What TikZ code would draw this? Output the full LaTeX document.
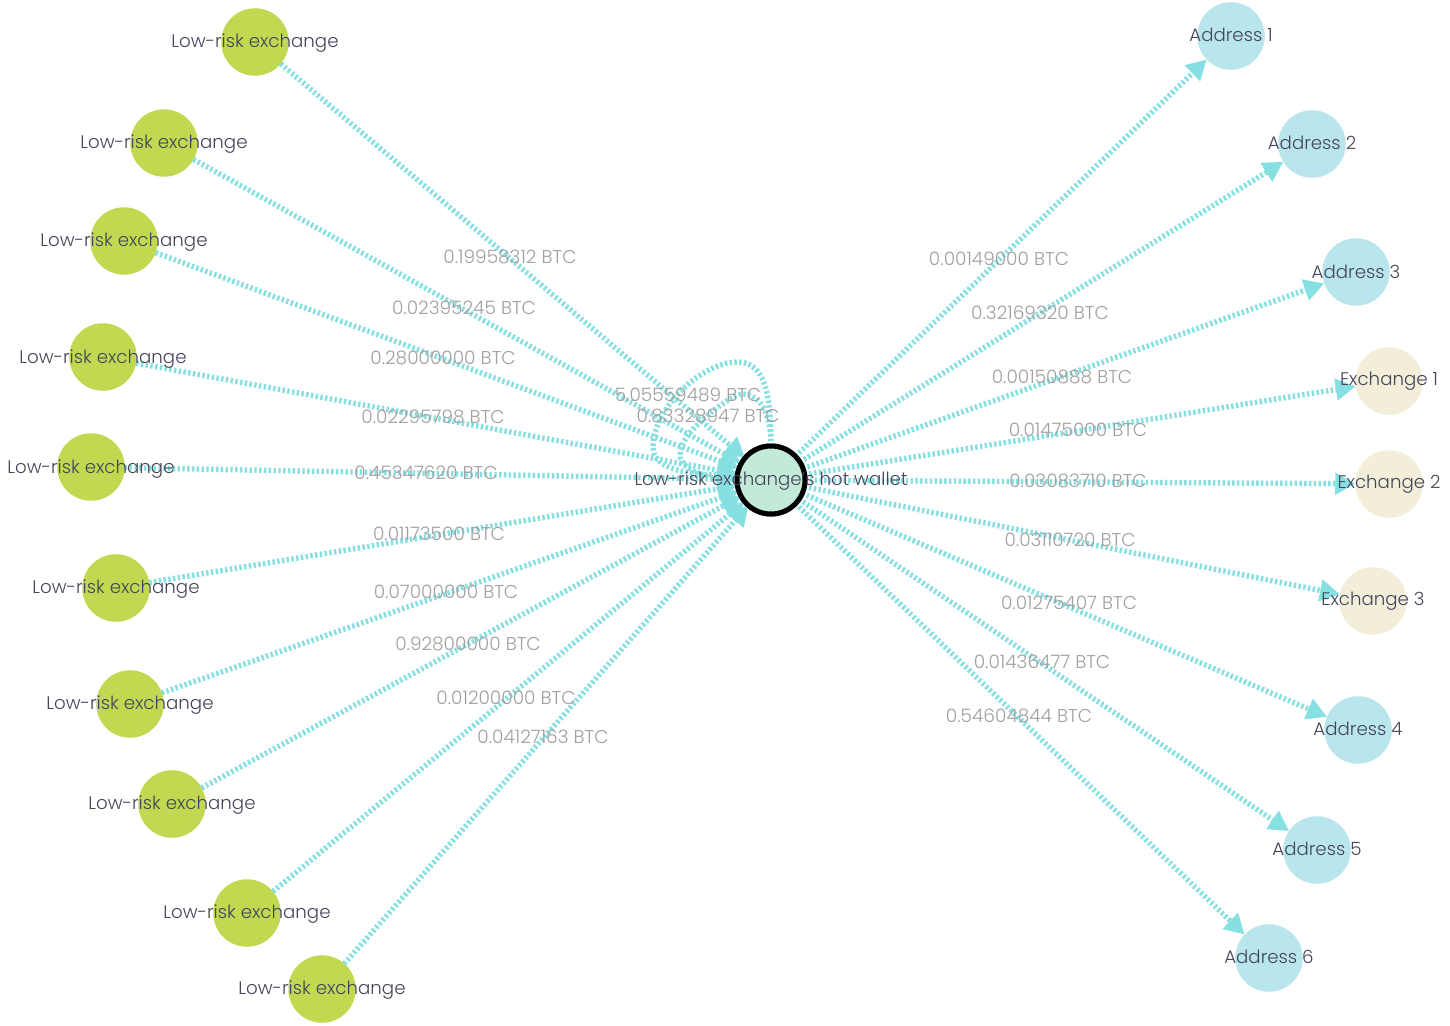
\documentclass[tikz,border=0pt]{standalone}
\usepackage{fontspec}
\setmainfont{Poppins Light}
\usetikzlibrary{arrows.meta}
\definecolor{edgec}{HTML}{86E0E2}
\definecolor{lowc}{HTML}{C1D950}
\definecolor{addrc}{HTML}{B9E5EC}
\definecolor{exc}{HTML}{F3EEDA}
\definecolor{hotc}{HTML}{C3EAD8}
\definecolor{txtc}{HTML}{45455A}
\definecolor{lblc}{HTML}{A0A0A0}
\tikzset{
 x=1pt,y=-1pt,
 circ/.style={circle,draw=none,minimum size=67.5pt,inner sep=0pt,outer sep=0pt},
 lown/.style={circ,fill=lowc},
 addr/.style={circ,fill=addrc},
 exch/.style={circ,fill=exc},
 hot/.style={circle,draw=black,line width=5pt,fill=hotc,minimum size=68pt,inner sep=0pt,outer sep=0pt},
 flow/.style={draw=edgec,line width=5.4pt,dash pattern=on 2.4pt off 2.4pt,-{Triangle[length=20pt,width=21pt,fill=edgec]}},
 ntext/.style={text=txtc,font=\fontsize{18.2}{20}\selectfont,inner sep=0pt},
 elabel/.style={text=lblc,font=\fontsize{18.5}{20}\selectfont,inner sep=0pt},
}
\begin{document}
\begin{tikzpicture}
\useasboundingbox (0,0) rectangle (1450,1025);
\fill[white] (0,0) rectangle (1450,1025);
\node[hot] (H) at (771,480) {};
\foreach \n/\x/\y in {L1/255/42,L2/164/143,L3/124/241,L4/103/357,L5/91/467,L6/116/588,L7/130/704,L8/172/804,L9/247/913,L10/322/989}
  \node[lown] (\n) at (\x,\y) {};
\foreach \n/\x/\y in {A1/1231/36,A2/1312/144,A3/1356/272,A4/1358/730,A5/1317/850,A6/1269/958}
  \node[addr] (\n) at (\x,\y) {};
\foreach \n/\x/\y in {E1/1389/381,E2/1389/484,E3/1373/601}
  \node[exch] (\n) at (\x,\y) {};
\foreach \n in {L1,L2,L3,L4,L5,L6,L7,L8,L9,L10}
  \draw[flow] (\n) -- (H);
\foreach \n in {A1,A2,A3,E1,E2,E3,A4,A5,A6}
  \draw[flow] (H) -- (\n);
\draw[flow] (H.90) .. controls (771,395) and (765,362) .. (738,362) .. controls (700,362) and (653,410) .. (653,447) .. controls (653,467) and (680,474) .. (H.172);
\draw[flow] (H.90) .. controls (771,400) and (750,388) .. (733,397) .. controls (712,410) and (680,435) .. (680,455) .. controls (680,470) and (710,478) .. (H.178);
\node[hot] at (H) {};
\foreach \n/\t in {L1/{255,43},L2/{164,144},L3/{124,242},L4/{103,359},L5/{91,469},L6/{116,589},L7/{130,705},L8/{172,805},L9/{247,914},L10/{322,990}}
  \node[ntext] at (\t) {Low-risk exchange};
\node[ntext] at (771,481) {Low-risk exchange's hot wallet};
\foreach \p/\t in {{1231,35}/Address 1,{1312,143}/Address 2,{1356,272}/Address 3,{1358,729}/Address 4,{1317,849}/Address 5,{1269,957}/Address 6,{1389,381}/Exchange 1,{1389,484}/Exchange 2,{1373,601}/Exchange 3}
  \node[ntext] at (\p) {\t};
\foreach \p/\t in {{510,257}/0.19958312,{464,308}/0.02395245,{443,358}/0.28000000,{433,417}/0.02295798,{426,473}/0.45347620,{439,534}/0.01173500,{446,592}/0.07000000,{468,644}/0.92800000,{506,698}/0.01200000,{543,737}/0.04127163,{688,395}/5.05559489,{708,416}/0.83328947,{999,259}/0.00149000,{1040,313}/0.32169320,{1062,377}/0.00150888,{1078,430}/0.01475000,{1078,481}/0.03083710,{1070,540}/0.03110720,{1069,603}/0.01275407,{1042,662}/0.01436477,{1019,716}/0.54604844}
  \node[elabel] at (\p) {\t{} BTC};
\end{tikzpicture}
\end{document}
